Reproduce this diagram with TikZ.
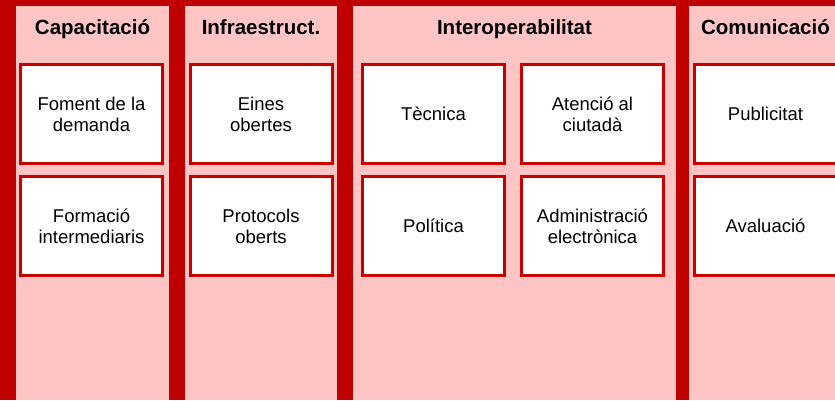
\documentclass[tikz,border=0pt]{standalone}
\usepackage{fontspec}
\setmainfont{Liberation Sans}
\definecolor{darkred}{HTML}{C00000}
\definecolor{boxred}{HTML}{C80000}
\definecolor{pinkbg}{HTML}{FFC5C5}
\begin{document}
\begin{tikzpicture}[x=1pt,y=-1pt,
  header/.style={font=\fontsize{20.5}{24}\selectfont\bfseries,text=black,anchor=base,inner sep=0pt},
  itembox/.style={draw=boxred,line width=3pt,fill=white,minimum width=142pt,minimum height=99pt,
    align=center,inner sep=0pt,font=\fontsize{18.5}{21.2}\selectfont,text=black}]
\useasboundingbox (0,0) rectangle (835,400);
\fill[darkred] (0,0) rectangle (835,400);
% columns
\fill[pinkbg] (16,6) rectangle (169,400);
\fill[pinkbg] (185,6) rectangle (337,400);
\fill[pinkbg] (353,6) rectangle (676,400);
\fill[pinkbg] (689,6) rectangle (842,400);
% headers
\node[header] (h1) at (92.5,34) {Capacitació};
\node[header] (h2) at (261,34) {Infraestruct.};
\node[header] (h3) at (514.5,34) {Interoperabilitat};
\node[header] (h4) at (765.5,34) {Comunicació};
% boxes
\node[itembox] (a1) at (91.5,114) {Foment de la\\demanda};
\node[itembox] (a2) at (91.5,226) {Formació\\intermediaris};
\node[itembox] (b1) at (261,114) {Eines\\obertes};
\node[itembox] (b2) at (261,226) {Protocols\\oberts};
\node[itembox] (c1) at (433.5,114) {Tècnica};
\node[itembox] (c2) at (592.5,114) {Atenció al\\ciutadà};
\node[itembox] (c3) at (433.5,226) {Política};
\node[itembox] (c4) at (592.5,226) {Administració\\electrònica};
\node[itembox] (d1) at (765.5,114) {Publicitat};
\node[itembox] (d2) at (765.5,226) {Avaluació};
\end{tikzpicture}
\end{document}
